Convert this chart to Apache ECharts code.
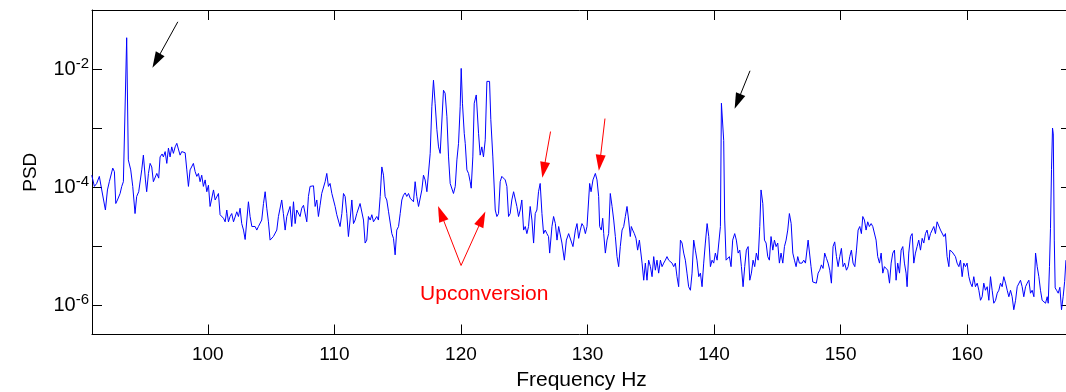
<!DOCTYPE html>
<html><head><meta charset="utf-8">
<script src="https://cdn.jsdelivr.net/npm/echarts@6/dist/echarts.min.js"></script>
<style>html,body{margin:0;padding:0;background:#fff}#c{width:1066px;height:392px}</style>
</head><body><div id="c"></div>
<script>
// Frequency (Hz) of each sample
const freqHz = [
90.83,91.04,91.22,91.43,91.62,91.91,92.07,92.22,92.36,92.49,
92.62,92.73,92.86,93.07,93.20,93.33,93.46,93.59,93.72,93.91,
94.07,94.25,94.38,94.54,94.65,94.78,94.91,95.07,95.17,95.31,
95.44,95.57,95.70,95.83,95.97,96.12,96.23,96.39,96.49,96.63,
96.76,96.89,97.02,97.15,97.28,97.42,97.55,97.68,97.81,97.94,
98.07,98.21,98.34,98.47,98.60,98.73,98.86,99.00,99.13,99.26,
99.39,99.52,99.65,99.79,99.92,100.05,100.18,100.31,100.45,100.58,
100.71,100.84,100.97,101.10,101.24,101.37,101.50,101.63,101.76,101.89,
102.03,102.16,102.29,102.42,102.55,102.68,102.82,102.95,103.08,103.21,
103.34,103.48,103.61,103.74,103.87,104.00,104.13,104.26,104.40,104.53,
104.66,104.79,104.92,
105.18,105.45,105.58,105.84,105.97,106.11,106.24,106.50,106.63,106.77,
106.90,107.03,107.16,107.29,107.42,107.56,107.82,107.95,108.08,108.35,
108.48,108.61,108.74,108.87,109.00,109.14,109.27,109.40,109.53,109.66,
109.80,109.93,110.06,110.19,110.45,110.59,110.72,110.85,110.98,111.11,
111.24,111.38,111.51,111.64,111.77,111.90,112.03,112.17,112.30,112.43,
112.56,112.69,112.83,112.96,113.09,113.35,113.48,113.62,113.75,113.88,
114.01,114.14,114.28,114.41,114.54,114.67,114.80,114.93,115.07,115.20,
115.33,115.46,115.59,115.72,115.86,115.99,116.12,116.25,116.38,116.51,
116.65,116.78,116.91,117.04,117.17,117.31,117.44,117.57,117.70,117.83,
117.96,118.10,118.23,118.36,118.49,118.62,118.75,118.89,119.02,119.15,
119.28,119.41,119.55,119.68,119.81,119.94,120.02,120.12,120.26,120.34,
120.47,120.60,120.73,120.81,120.94,121.05,121.21,121.39,121.52,121.65,
121.78,121.92,122.05,122.26,122.36,122.52,122.71,122.84,122.97,123.10,
123.23,123.50,123.63,123.76,123.89,124.02,124.16,124.29,124.42,124.55,
124.68,124.81,124.95,125.08,125.21,125.34,125.47,125.61,125.74,125.87,
126.00,126.13,126.26,126.40,126.53,126.66,126.79,126.92,
127.01,127.19,127.32,127.46,127.59,127.72,127.85,127.98,128.17,128.33,
128.51,128.64,128.85,129.04,129.17,129.30,129.43,129.56,129.70,129.83,
129.96,130.09,130.17,130.28,130.43,130.62,130.75,130.88,130.96,131.09,
131.20,131.28,131.41,131.54,131.67,131.80,131.94,132.07,132.20,132.33,
132.46,132.59,132.73,132.86,132.99,133.12,133.25,133.38,133.46,133.57,
133.70,133.83,133.96,134.10,134.31,134.44,134.57,134.70,134.83,134.97,
135.10,135.23,135.36,135.49,135.62,135.76,135.89,136.02,136.15,136.28,
136.41,136.55,136.68,136.81,136.94,137.07,137.20,137.34,137.47,137.60,
137.73,137.86,137.99,138.13,138.26,138.39,138.52,138.65,138.79,138.92,
139.05,139.18,139.31,139.45,139.58,139.71,139.84,139.97,140.10,140.24,
140.37,140.50,140.58,140.66,140.76,140.84,140.95,141.08,141.21,141.34,
141.47,141.63,141.76,141.90,142.03,142.16,142.29,142.42,142.55,142.69,
142.82,142.95,143.08,143.21,143.34,143.48,143.61,143.71,143.85,143.98,
144.11,144.24,144.37,144.50,144.64,144.77,144.90,145.03,145.16,145.29,
145.43,145.56,145.69,145.82,145.95,146.09,146.22,146.35,146.48,146.61,
146.74,
146.95,147.08,147.22,147.35,147.43,147.56,147.66,147.80,147.93,148.08,
148.22,148.35,148.48,148.61,148.74,148.88,149.01,149.14,149.27,149.40,
149.53,149.67,149.80,149.93,150.06,150.19,150.32,150.46,150.59,150.72,
150.85,150.98,151.12,151.25,151.38,151.51,151.64,151.75,151.88,152.01,
152.14,152.27,152.41,152.54,152.67,152.80,152.93,153.07,153.20,153.33,
153.46,153.59,153.72,153.86,153.99,154.12,154.25,154.38,154.51,154.65,
154.78,154.91,155.04,155.17,155.25,155.38,155.52,155.65,155.78,155.91,
156.04,156.17,156.31,156.44,156.57,156.70,156.83,156.97,157.10,157.23,
157.36,157.49,157.62,157.76,157.89,158.02,158.15,158.28,158.41,158.55,
158.63,158.81,158.94,159.07,159.20,159.34,159.47,159.60,159.73,159.86,
159.99,160.13,160.26,160.39,160.52,160.65,160.79,160.92,161.05,161.18,
161.31,161.44,161.58,161.71,161.84,161.97,162.10,162.24,162.37,162.50,
162.63,162.76,162.89,163.03,163.16,163.29,163.42,163.55,163.68,163.82,
163.95,164.08,164.21,164.34,164.47,164.61,164.74,164.87,165.00,165.13,
165.27,165.40,165.53,165.66,165.79,165.92,166.06,166.19,166.32,166.40,
166.50,166.58,166.66,166.74,166.80,166.88,166.95,167.06,167.19,167.32,
167.45,167.58,167.70,167.80
];
// log10(PSD) of each sample, same order as freqHz
const psdLog10 = [
-3.80,-3.99,-3.94,-3.82,-4.05,-4.39,-4.05,-3.91,-3.91,-3.68,
-3.74,-4.28,-4.22,-4.11,-3.99,-3.91,-3.88,-1.47,-3.54,-3.71,
-3.99,-4.45,-4.16,-4.08,-4.05,-3.71,-3.46,-3.88,-4.08,-3.77,
-3.60,-3.66,-3.91,-3.88,-3.77,-3.85,-3.49,-3.44,-3.49,-3.40,
-3.60,-3.34,-3.49,-3.32,-3.43,-3.32,-3.26,-3.27,-3.46,-3.40,
-3.43,-3.42,-3.71,-3.99,-3.71,-3.68,-3.60,-3.74,-3.82,-3.77,
-3.91,-3.80,-3.99,-3.88,-4.08,-3.97,-4.33,-4.31,-4.05,-4.22,
-4.19,-4.11,-4.47,-4.50,-4.53,-4.59,-4.39,-4.59,-4.50,-4.45,
-4.59,-4.62,-4.42,-4.50,-4.36,-4.62,-4.73,-4.89,-4.87,-4.25,
-4.50,-4.67,-4.64,-4.67,-4.73,-4.67,-4.70,-4.56,-4.28,-4.08,
-4.36,-4.59,-4.90,
-4.84,-4.73,-4.50,-4.22,-4.45,-4.73,-4.50,-4.33,-4.67,-4.25,
-4.62,-4.39,-4.36,-4.50,-4.36,-4.31,-4.59,-4.16,-3.99,-3.98,
-4.33,-4.22,-4.50,-4.31,-4.11,-4.14,-3.91,-3.77,-3.99,-3.94,
-4.11,-4.22,-4.33,-4.47,-4.67,-4.45,-4.11,-4.16,-4.45,-4.84,
-4.56,-4.22,-4.62,-4.56,-4.45,-4.47,-4.28,-4.31,-4.56,-4.95,
-4.90,-4.50,-4.56,-4.47,-4.59,-4.50,-4.56,-4.16,-3.66,-3.80,
-4.16,-4.22,-4.42,-4.39,-4.79,-4.87,-5.15,-4.73,-4.67,-4.45,
-4.22,-4.14,-4.10,-4.16,-4.11,-4.19,-4.22,-4.25,-3.91,-4.16,
-4.33,-4.36,-4.05,-3.80,-3.88,-4.08,-4.11,-3.43,-2.64,-2.19,
-2.58,-3.03,-3.32,-3.43,-3.40,-2.36,-2.41,-2.81,-3.49,-3.94,
-3.97,-4.11,-3.99,-3.54,-3.26,-2.64,-1.99,-2.58,-3.09,-3.26,
-3.71,-3.77,-3.91,-4.02,-3.49,-2.58,-2.44,-3.09,-3.46,-3.32,
-3.49,-3.20,-2.21,-2.21,-2.86,-3.49,-4.39,-4.50,-4.45,-3.91,
-3.82,-3.88,-3.99,-4.50,-4.45,-4.22,-4.08,-4.11,-4.33,-4.50,
-4.39,-4.22,-4.73,-4.67,-4.79,-4.67,-4.33,-4.56,-4.95,-4.45,
-4.39,-4.08,-3.94,-4.45,-4.79,-4.73,-4.79,-4.84,
-5.12,-4.67,-4.50,-4.62,-4.90,-4.67,-4.67,-4.95,-5.24,-4.90,
-4.79,-4.81,-5.01,-4.73,-4.62,-4.87,-4.73,-4.62,-4.67,-4.79,
-4.67,-4.22,-3.94,-4.08,-3.88,-3.77,-3.88,-4.16,-4.67,-4.73,
-4.53,-4.79,-5.12,-4.90,-4.79,-4.11,-4.33,-4.56,-4.84,-5.18,
-5.35,-5.01,-4.73,-4.67,-4.50,-4.33,-4.56,-4.84,-4.67,-4.73,
-4.79,-4.87,-5.07,-4.90,-5.29,-5.58,-5.29,-5.58,-5.24,-5.35,
-5.52,-5.18,-5.41,-5.24,-5.46,-5.24,-5.35,-5.29,-5.24,-5.18,
-5.24,-5.24,-5.29,-5.35,-5.29,-5.52,-5.69,-4.90,-4.95,-5.12,
-5.24,-5.46,-5.69,-5.75,-5.46,-4.90,-5.07,-5.24,-5.52,-5.46,
-5.69,-5.29,-4.95,-4.62,-4.84,-5.35,-5.24,-5.29,-5.12,-5.24,
-5.24,-4.67,-2.58,-2.59,-3.21,-4.56,-5.24,-5.21,-5.18,-5.35,
-4.90,-4.79,-4.90,-5.12,-5.07,-5.35,-5.69,-5.35,-5.07,-5.01,
-5.58,-5.46,-5.24,-5.35,-5.12,-5.24,-4.67,-4.05,-4.28,-4.90,
-4.95,-5.18,-5.24,-4.84,-5.07,-4.90,-5.01,-4.95,-5.29,-5.12,
-5.29,-5.01,-4.90,-4.73,-4.45,-4.62,-5.12,-5.24,-5.35,-5.18,
-5.29,
-5.29,-5.24,-5.29,-5.32,-4.90,-4.90,-5.35,-5.61,-5.61,-5.63,
-5.46,-5.41,-5.32,-5.38,-5.12,-5.21,-5.29,-5.41,-5.63,-5.01,
-4.93,-5.18,-5.35,-5.18,-5.04,-5.35,-5.29,-5.41,-5.35,-5.18,
-5.07,-5.29,-5.35,-5.07,-4.73,-4.67,-4.79,-4.50,-4.56,-4.73,
-4.59,-4.67,-4.62,-4.67,-4.64,-4.90,-5.18,-5.29,-5.12,-5.46,
-5.35,-5.35,-5.41,-5.63,-5.29,-5.12,-5.07,-5.58,-5.29,-5.46,
-5.07,-5.01,-5.29,-5.46,-5.69,-5.12,-4.84,-4.79,-5.29,-5.12,
-5.01,-4.90,-5.07,-4.87,-4.95,-4.79,-4.73,-4.90,-4.79,-4.73,
-4.67,-4.79,-4.59,-4.62,-4.73,-4.73,-4.84,-4.79,-5.18,-5.35,
-5.07,-5.10,-5.12,-5.18,-5.29,-5.35,-5.24,-5.52,-5.29,-5.35,
-5.29,-5.52,-5.63,-5.69,-5.52,-5.69,-5.63,-5.75,-5.92,-5.86,
-5.63,-5.75,-5.69,-5.92,-5.52,-5.75,-5.97,-5.92,-5.80,-5.75,
-5.63,-5.69,-5.52,-5.63,-5.75,-5.86,-5.75,-5.86,-6.08,-5.92,
-5.69,-5.69,-5.58,-5.69,-5.86,-5.69,-5.63,-5.58,-5.80,-5.75,
-5.86,-5.12,-5.35,-5.52,-5.75,-5.92,-5.92,-5.97,-5.86,-5.97,
-5.35,-4.70,-3.70,-3.00,-3.10,-4.90,-5.71,-5.75,-5.80,-5.70,
-6.08,-5.86,-5.60,-5.24
];
const xTickValues = [100, 110, 120, 130, 140, 150, 160];
const yTickExponents = [-6, -5, -4, -3, -2];
const yLabelExponents = [-6, -4, -2];
// annotation arrows: [fromHz, fromLog, toHz, toLog, colour]
const arrowDefs = [
  [97.63, -1.20, 95.93, -1.86, '#000000'],
  [142.84, -2.03, 141.86, -2.55, '#000000'],
  [127.08, -3.06, 126.54, -3.71, '#ff0000'],
  [131.38, -2.84, 130.97, -3.59, '#ff0000'],
  [120.01, -5.33, 118.42, -4.45, '#ff0000'],
  [120.01, -5.33, 121.67, -4.54, '#ff0000']
];
const noteText = 'Upconversion';
const notePos = [121.84, -5.81];

const FONT = "'Liberation Sans', Arial, sans-serif";
const chart = echarts.init(document.getElementById('c'), null, {renderer: 'canvas'});
const points = freqHz.map((f, i) => [f, psdLog10[i]]);
const axLine = {show: true, onZero: false, lineStyle: {color: '#000', width: 1}};
const xMin = 90.85, xMax = 168.2, yMin = -6.5, yMax = -1;

const option = {
  animation: false,
  backgroundColor: '#fff',
  grid: {left: 92, top: 10, right: -5, bottom: 57.5, containLabel: false, outerBoundsMode: 'none'},
  xAxis: [
    {type: 'value', min: xMin, max: xMax, position: 'bottom',
     name: 'Frequency Hz', nameLocation: 'middle', nameGap: 35,
     nameTextStyle: {color: '#000', fontSize: 21, fontFamily: FONT},
     axisLine: axLine,
     axisTick: {show: true, inside: true, length: 10, customValues: xTickValues, lineStyle: {color: '#000', width: 1}},
     axisLabel: {show: true, customValues: xTickValues, margin: 11, color: '#000', fontSize: 19, fontFamily: FONT},
     splitLine: {show: false}},
    {type: 'value', min: xMin, max: xMax, position: 'top',
     axisLine: axLine,
     axisTick: {show: true, inside: true, length: 10, customValues: xTickValues, lineStyle: {color: '#000', width: 1}},
     axisLabel: {show: false}, splitLine: {show: false}}
  ],
  yAxis: [
    {type: 'value', min: yMin, max: yMax, position: 'left',
     name: 'PSD', nameLocation: 'middle', nameGap: 52, nameRotate: 90,
     nameTextStyle: {color: '#000', fontSize: 19, fontFamily: FONT},
     axisLine: axLine,
     axisTick: {show: true, inside: true, length: 10, customValues: yTickExponents, lineStyle: {color: '#000', width: 1}},
     axisLabel: {show: true, customValues: yLabelExponents, margin: 3,
       formatter: v => '{a|10}{b|' + Math.round(v) + '}',
       rich: {
         a: {fontSize: 20, fontFamily: FONT, color: '#000', lineHeight: 26},
         b: {fontSize: 15, fontFamily: FONT, color: '#000', lineHeight: 12, verticalAlign: 'top'}
       }},
     splitLine: {show: false}},
    {type: 'value', min: yMin, max: yMax, position: 'right',
     axisLine: axLine,
     axisTick: {show: true, inside: true, length: 10, customValues: yTickExponents, lineStyle: {color: '#000', width: 1}},
     axisLabel: {show: false}, splitLine: {show: false}}
  ],
  series: [{
    type: 'line', data: points, xAxisIndex: 0, yAxisIndex: 0,
    showSymbol: false, symbol: 'none', clip: true,
    lineStyle: {color: '#0000ff', width: 1}, itemStyle: {color: '#0000ff'},
    emphasis: {disabled: true},
    markLine: {
      silent: true, animation: false,
      label: {show: false},
      emphasis: {disabled: true},
      lineStyle: {type: 'solid', width: 1},
      data: arrowDefs.map(a => [
        {coord: [a[0], a[1]], symbol: 'none', lineStyle: {color: a[4], width: 1, type: 'solid'}},
        {coord: [a[2], a[3]], symbol: 'triangle', symbolSize: [10, 16]}
      ])
    },
    markPoint: {
      silent: true, animation: false,
      data: [{coord: notePos, symbol: 'circle', symbolSize: 1,
        itemStyle: {color: 'rgba(0,0,0,0)'},
        label: {show: true, position: 'inside', formatter: noteText, color: '#ff0000', fontSize: 21, fontFamily: FONT}}]
    }
  }]
};
chart.setOption(option);
</script></body></html>
